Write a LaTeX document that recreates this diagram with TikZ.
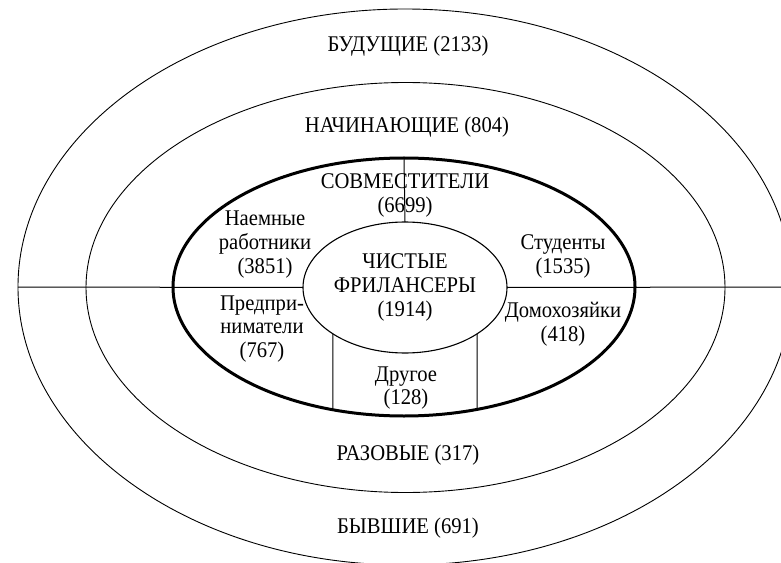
\documentclass[tikz,border=0pt]{standalone}
\usepackage{fontspec}
\setmainfont[FakeStretch=0.92]{Liberation Serif}
\usetikzlibrary{shapes.geometric}
\begin{document}
\begin{tikzpicture}[x=1bp,y=-1bp,
  ring/.style={draw, ellipse, inner sep=0pt, outer sep=0pt, line width=0.9bp},
  lbl/.style={align=center, font=\fontsize{22.5}{24}\selectfont, inner sep=0pt},
  sepline/.style={line width=1bp}]
\useasboundingbox (0,0) rectangle (781,563);
\clip (0,0) rectangle (781,563);
% rings
\node[ring, minimum width=774bp, minimum height=556bp] (outer) at (405,287) {};
\node[ring, minimum width=639bp, minimum height=410bp] (second) at (405.5,287.5) {};
\node[ring, line width=3bp, minimum width=462bp, minimum height=258bp] (thick) at (404,287) {};
\node[ring, line width=1.1bp, minimum width=204bp, minimum height=131bp] (inner) at (405,287.5) {};
% free ends
\coordinate (dl) at (332.9,409.7);
\coordinate (dr) at (477.1,409.7);
% dividers
\draw[sepline] (outer.west) -- (inner.west);
\draw[sepline] (inner.east) -- (outer.east);
\draw[sepline] (thick.north) -- (inner.north);
\draw[sepline] (inner.south west) -- (dl);
\draw[sepline] (inner.south east) -- (dr);
% labels
\node[lbl] (bud) at (408,46) {БУДУЩИЕ (2133)};
\node[lbl] (nach) at (407,127) {НАЧИНАЮЩИЕ (804)};
\node[lbl] (raz) at (408,455) {РАЗОВЫЕ (317)};
\node[lbl] (byv) at (408,528) {БЫВШИЕ (691)};
\node[lbl] (sovm) at (405,195.5) {СОВМЕСТИТЕЛИ\\(6699)};
\node[lbl] (naem) at (265,244.5) {Наемные\\работники\\(3851)};
\node[lbl] (stud) at (563,256.5) {Студенты\\(1535)};
\node[lbl] (pred) at (262,329) {Предпри-\\ниматели\\(767)};
\node[lbl] (dom) at (563,324) {Домохозяйки\\(418)};
\node[lbl] (drug) at (406,388) {Другое\\(128)};
\node[lbl] (chist) at (405,287.5) {ЧИСТЫЕ\\ФРИЛАНСЕРЫ\\(1914)};
\end{tikzpicture}
\end{document}
